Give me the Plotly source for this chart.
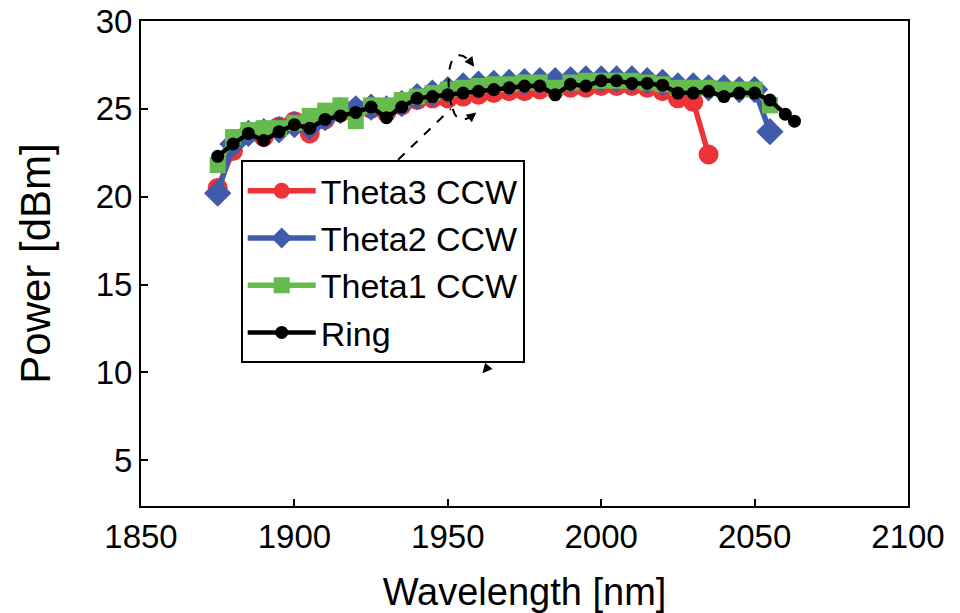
import plotly.graph_objects as go

wl = [1875, 1880, 1885, 1890, 1895, 1900, 1905, 1910, 1915, 1920, 1925, 1930, 1935,
      1940, 1945, 1950, 1955, 1960, 1965, 1970, 1975, 1980, 1985, 1990, 1995, 2000,
      2005, 2010, 2015, 2020, 2025, 2030, 2035, 2040, 2045, 2050, 2055]

theta3 = [20.5, 22.6, 23.6, 23.4, 24.0, 24.3, 23.6, 24.4, 24.8, 25.0, 25.0, 24.8, 25.2,
          25.5, 25.6, 25.6, 25.7, 25.8, 25.9, 26.0, 26.0, 26.1, 26.1, 26.2, 26.2, 26.3,
          26.3, 26.3, 26.2, 26.0, 25.6, 25.4, 22.4]
theta2 = [20.2, 23.0, 23.6, 23.7, 23.8, 24.1, 24.0, 24.5, 24.9, 25.0, 25.1, 25.0, 25.3,
          25.7, 25.9, 26.1, 26.3, 26.4, 26.45, 26.5, 26.55, 26.6, 26.6, 26.65, 26.7, 26.7,
          26.7, 26.7, 26.6, 26.5, 26.3, 26.3, 26.2, 26.2, 26.1, 26.1, 23.7]
theta1 = [21.8, 23.4, 23.8, 23.9, 23.9, 24.2, 24.6, 24.9, 25.2, 24.3, 25.2, 25.2, 25.5,
          25.7, 25.9, 26.1, 26.2, 26.3, 26.4, 26.4, 26.5, 26.5, 26.2, 26.5, 26.6, 26.6,
          26.6, 26.6, 26.5, 26.4, 26.2, 26.2, 26.2, 26.1, 26.1, 26.1, 25.2]
ring_wl = wl + [2060, 2063]
ring = [22.3, 23.0, 23.6, 23.2, 23.7, 24.1, 23.9, 24.4, 24.6, 24.8, 25.1, 24.5, 25.1,
        25.6, 25.7, 25.8, 25.9, 26.0, 26.1, 26.2, 26.3, 26.3, 25.8, 26.4, 26.3, 26.6,
        26.6, 26.45, 26.45, 26.35, 25.9, 25.9, 26.0, 25.7, 25.9, 25.9, 25.5, 24.7, 24.3]

x_ticks = [1850, 1900, 1950, 2000, 2050, 2100]
y_ticks = [5, 10, 15, 20, 25, 30]

FONT = "Liberation Sans, Arial, sans-serif"

fig = go.Figure()
fig.add_trace(go.Scatter(x=wl[:len(theta3)], y=theta3, name="Theta3 CCW", mode="lines+markers",
                         line=dict(color="#EE3338", width=5.5),
                         marker=dict(symbol="circle", size=20, color="#EE3338")))
fig.add_trace(go.Scatter(x=wl, y=theta2, name="Theta2 CCW", mode="lines+markers",
                         line=dict(color="#3F5BAA", width=5.5),
                         marker=dict(symbol="diamond", size=21, color="#3F5BAA")))
fig.add_trace(go.Scatter(x=wl, y=theta1, name="Theta1 CCW", mode="lines+markers",
                         line=dict(color="#66BB4F", width=5.5),
                         marker=dict(symbol="square", size=16, color="#66BB4F")))
fig.add_trace(go.Scatter(x=ring_wl, y=ring, name="Ring", mode="lines+markers",
                         line=dict(color="#000000", width=4.5),
                         marker=dict(symbol="circle", size=13, color="#000000")))

# dashed arrows (annotation decorations)
fig.add_shape(type="line", x0=1933.8, y0=22.1, x1=1951.0, y1=25.0, xref="x", yref="y",
              line=dict(color="black", width=2, dash="dash"))
fig.add_shape(type="path", xref="x", yref="y",
              path="M 1951.2,25.2 C 1949.5,26.5 1950.0,27.9 1953.3,28.05 C 1955,28.1 1956.5,27.9 1957.8,27.5",
              line=dict(color="black", width=2, dash="dash"))
fig.add_shape(type="path", xref="x", yref="y",
              path="M 1951.6,25.0 C 1952.5,24.4 1954.5,24.2 1958.0,24.6",
              line=dict(color="black", width=2, dash="dash"))
for (ax_, ay_, x_, y_) in [(1956.5, 27.9, 1958.6, 27.4), (1957.2, 24.5, 1959.3, 24.8),
                           (1963.0, 10.3, 1961.3, 9.95)]:
    fig.add_annotation(x=x_, y=y_, ax=ax_, ay=ay_, xref="x", yref="y", axref="x", ayref="y",
                       text="", showarrow=True, arrowhead=2, arrowsize=1.3, arrowwidth=1.5,
                       arrowcolor="black")

axis_common = dict(showline=True, linecolor="black", linewidth=2, mirror=True,
                   ticks="inside", ticklen=7, tickwidth=1.5, tickcolor="black",
                   showgrid=False, zeroline=False, automargin=False,
                   tickfont=dict(family=FONT, size=33, color="black"))

fig.update_xaxes(range=[1850, 2100], tickvals=x_ticks, ticktext=[str(v) for v in x_ticks],
                 title=dict(text="Wavelength [nm]", font=dict(family=FONT, size=38, color="black"),
                            standoff=27),
                 **axis_common)
fig.update_yaxes(range=[2.4, 30], tickvals=y_ticks, ticktext=[str(v) for v in y_ticks],
                 title=dict(text="Power [dBm]", font=dict(family=FONT, size=42, color="black"),
                            standoff=32),
                 **axis_common)

fig.update_layout(
    width=960, height=613,
    margin=dict(l=141, r=52, t=21, b=107),
    plot_bgcolor="white", paper_bgcolor="white",
    font=dict(family=FONT, color="black"),
    legend=dict(x=0.13, y=0.713, xanchor="left", yanchor="top",
                bgcolor="white", bordercolor="black", borderwidth=2,
                font=dict(family=FONT, size=34, color="black"),
                itemwidth=68, tracegroupgap=0),
    showlegend=True,
)

fig.write_html("out.html")
